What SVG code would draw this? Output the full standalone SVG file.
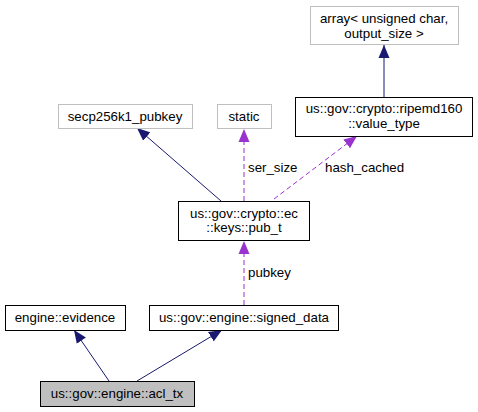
<svg xmlns="http://www.w3.org/2000/svg" width="478" height="412" viewBox="0 0 478 412">
<defs>
<style>
text{font-family:"Liberation Sans",Arial,Helvetica,sans-serif;font-size:13.3px;fill:#000}
.n rect{fill:#fff;stroke:#000;stroke-width:1}
.g rect{fill:#fff;stroke:#bfbfbf;stroke-width:1}
.cur rect{fill:#bfbfbf;stroke:#000;stroke-width:1}
.m{text-anchor:middle}
.inh{fill:none;stroke:#191970;stroke-width:1}
.use{fill:none;stroke:#9a32cd;stroke-width:1;stroke-dasharray:5,3}
</style>
<marker id="an" markerUnits="userSpaceOnUse" markerWidth="13" markerHeight="12" viewBox="0 0 13 11" refX="13" refY="5.5" orient="auto">
<path d="M0,0 L13,5.5 L0,11 Z" fill="#191970"/>
</marker>
<marker id="ap" markerUnits="userSpaceOnUse" markerWidth="13" markerHeight="12" viewBox="0 0 13 11" refX="13" refY="5.5" orient="auto">
<path d="M0,0 L13,5.5 L0,11 Z" fill="#9a32cd"/>
</marker>
</defs>
<rect width="478" height="412" fill="#fff"/>
<g id="edges">
<path class="inh" d="M384,97 L384,45" marker-end="url(#an)"/>
<path class="inh" d="M221,201 L137,128" marker-end="url(#an)"/>
<path class="use" d="M244,201 L244,129" marker-end="url(#ap)"/>
<path class="use" d="M274,199 L357,136" marker-end="url(#ap)"/>
<path class="use" d="M244,305 L244,241" marker-end="url(#ap)"/>
<path class="inh" d="M109,381 L74,330" marker-end="url(#an)"/>
<path class="inh" d="M137,381 L222,330" marker-end="url(#an)"/>
<text x="248" y="171.5">ser_size</text>
<text x="325" y="171.5">hash_cached</text>
<text x="248" y="276.5">pubkey</text>
</g>
<g id="node_array" class="g">
<rect x="310.5" y="6.5" width="148" height="38"/>
<text class="m" x="384" y="22.5">array&lt; unsigned char,</text>
<text class="m" x="384" y="37.5">output_size &gt;</text>
</g>
<g id="node_secp" class="g">
<rect x="58.5" y="104.5" width="134" height="24"/>
<text class="m" x="125" y="120.5">secp256k1_pubkey</text>
</g>
<g id="node_static" class="g">
<rect x="217.5" y="104.5" width="54" height="24"/>
<text class="m" x="244" y="120.5">static</text>
</g>
<g id="node_value_type" class="n">
<rect x="295.5" y="97.5" width="177" height="39"/>
<text class="m" x="384" y="113">us::gov::crypto::ripemd160</text>
<text class="m" x="384" y="127.5">::value_type</text>
</g>
<g id="node_pub_t" class="n">
<rect x="178.5" y="201.5" width="131" height="39"/>
<text class="m" x="244" y="217.5">us::gov::crypto::ec</text>
<text class="m" x="244" y="231.5">::keys::pub_t</text>
</g>
<g id="node_evidence" class="n">
<rect x="5.5" y="305.5" width="120" height="25"/>
<text class="m" x="65" y="321.5">engine::evidence</text>
</g>
<g id="node_signed_data" class="n">
<rect x="149.5" y="305.5" width="189" height="25"/>
<text class="m" x="244" y="321.5">us::gov::engine::signed_data</text>
</g>
<g id="node_acl_tx" class="cur">
<rect x="40.5" y="381.5" width="154" height="25"/>
<text class="m" x="117" y="397.5">us::gov::engine::acl_tx</text>
</g>
</svg>
